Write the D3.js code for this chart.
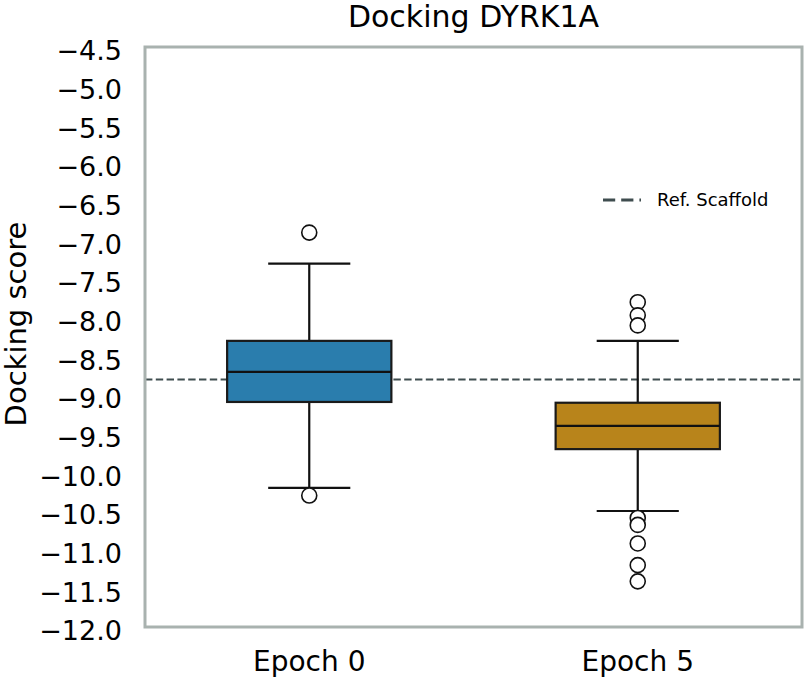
<!DOCTYPE html>
<html>
<head>
<meta charset="utf-8">
<script src="https://cdn.jsdelivr.net/npm/d3@7"></script>
<style>
  body { margin: 0; background: #fff; }
  svg text { font-family: "DejaVu Sans", sans-serif; fill: #000; }
</style>
</head>
<body>
<div id="chart"></div>
<script>
// data
const groups = ["Epoch 0", "Epoch 5"];
const q1 = [-9.09, -9.70];
const medians = [-8.70, -9.40];
const q3 = [-8.30, -9.10];
const whiskerLow = [-10.20, -10.50];
const whiskerHigh = [-7.30, -8.30];
const outliers = [
    [-6.90, -10.30],
    [-7.80, -7.97, -8.10, -10.59, -10.68, -10.92, -11.20, -11.41]
];
const colors = ["#2a7dad", "#b8841b"];
const refScaffold = -8.8;
const yTicks = [-4.5, -5.0, -5.5, -6.0, -6.5, -7.0, -7.5, -8.0, -8.5, -9.0, -9.5, -10.0, -10.5, -11.0, -11.5, -12.0];

const width = 808, height = 680;
const margin = {top: 47, right: 6, bottom: 53, left: 145};

const svg = d3.select("#chart")
    .append("svg")
    .attr("width", width)
    .attr("height", height);

const innerW = width - margin.left - margin.right;
const innerH = height - margin.top - margin.bottom;

const x = d3.scaleBand()
    .domain(groups)
    .range([margin.left, margin.left + innerW])
    .paddingInner(0.5)
    .paddingOuter(0.25);

const y = d3.scaleLinear()
    .domain([-12, -4.5])
    .range([margin.top + innerH, margin.top]);

// y axis labels (no tick marks)
const yAxis = svg.append("g")
    .attr("transform", `translate(${margin.left - 20},0)`)
    .call(d3.axisLeft(y).tickValues(yTicks).tickSize(0).tickPadding(3)
        .tickFormat(d => d3.format(".1f")(d).replace("-", "\u2212")));
yAxis.select(".domain").remove();
yAxis.selectAll("text").attr("font-size", "27px").attr("dy", "0.48em");

// x axis labels
groups.forEach(g => {
    svg.append("text")
        .attr("x", x(g) + x.bandwidth() / 2)
        .attr("y", 671)
        .attr("text-anchor", "middle")
        .attr("font-size", "28px")
        .text(g);
});

// reference line
svg.append("line")
    .attr("x1", margin.left)
    .attr("x2", margin.left + innerW)
    .attr("y1", y(refScaffold))
    .attr("y2", y(refScaffold))
    .attr("stroke", "#3f4d4f")
    .attr("stroke-width", 2)
    .attr("stroke-dasharray", "7.4,3.4");

// boxes
groups.forEach((g, i) => {
    const cx = x(g) + x.bandwidth() / 2;
    const capW = x.bandwidth() / 2;
    const grp = svg.append("g");

    grp.append("line")
        .attr("x1", cx).attr("x2", cx)
        .attr("y1", y(whiskerHigh[i])).attr("y2", y(q3[i]))
        .attr("stroke", "#111").attr("stroke-width", 2.2);
    grp.append("line")
        .attr("x1", cx).attr("x2", cx)
        .attr("y1", y(q1[i])).attr("y2", y(whiskerLow[i]))
        .attr("stroke", "#111").attr("stroke-width", 2.2);
    [whiskerHigh[i], whiskerLow[i]].forEach(v => {
        grp.append("line")
            .attr("x1", cx - capW / 2).attr("x2", cx + capW / 2)
            .attr("y1", y(v)).attr("y2", y(v))
            .attr("stroke", "#111").attr("stroke-width", 2.2);
    });

    grp.append("rect")
        .attr("x", x(g))
        .attr("y", y(q3[i]))
        .attr("width", x.bandwidth())
        .attr("height", y(q1[i]) - y(q3[i]))
        .attr("fill", colors[i])
        .attr("stroke", "#1a1a1a")
        .attr("stroke-width", 2.2);

    grp.append("line")
        .attr("x1", x(g)).attr("x2", x(g) + x.bandwidth())
        .attr("y1", y(medians[i])).attr("y2", y(medians[i]))
        .attr("stroke", "#111").attr("stroke-width", 2.2);

    grp.selectAll("circle")
        .data(outliers[i])
        .enter()
        .append("circle")
        .attr("cx", cx)
        .attr("cy", d => y(d))
        .attr("r", 7.5)
        .attr("fill", "#fff")
        .attr("stroke", "#111")
        .attr("stroke-width", 1.6);
});

// frame
svg.append("rect")
    .attr("x", margin.left)
    .attr("y", margin.top)
    .attr("width", innerW)
    .attr("height", innerH)
    .attr("fill", "none")
    .attr("stroke", "#a9b2af")
    .attr("stroke-width", 3);

// title
svg.append("text")
    .attr("x", margin.left + innerW / 2)
    .attr("y", 27)
    .attr("text-anchor", "middle")
    .attr("font-size", "30px")
    .text("Docking DYRK1A");

// y label
svg.append("text")
    .attr("transform", `translate(26,324) rotate(-90)`)
    .attr("text-anchor", "middle")
    .attr("font-size", "29px")
    .text("Docking score");

// legend
const legend = svg.append("g").attr("transform", "translate(603,200)");
legend.append("line")
    .attr("x1", 0).attr("x2", 38)
    .attr("y1", 0).attr("y2", 0)
    .attr("stroke", "#3f4d4f")
    .attr("stroke-width", 3)
    .attr("stroke-dasharray", "12.2,6");
legend.append("text")
    .attr("x", 54)
    .attr("y", 0)
    .attr("dy", "0.35em")
    .attr("font-size", "18px")
    .text("Ref. Scaffold");
</script>
</body>
</html>
